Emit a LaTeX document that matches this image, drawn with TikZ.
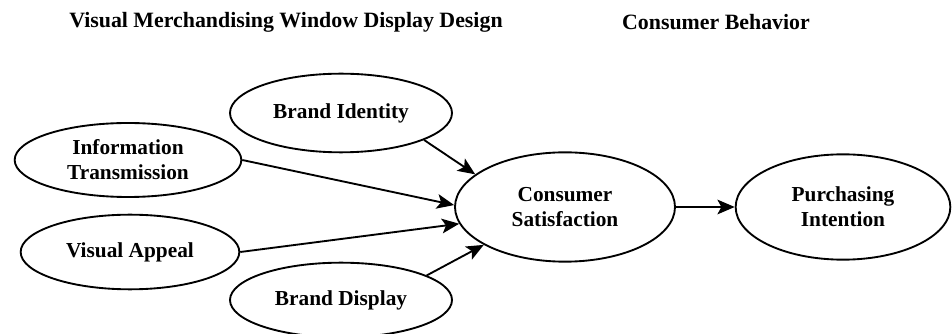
\documentclass[tikz,border=0pt]{standalone}
\usepackage{fontspec}
\setmainfont{Liberation Serif}
\usetikzlibrary{shapes.geometric,arrows.meta}
\begin{document}
\begin{tikzpicture}[x=0.75pt,y=-0.75pt,
  construct/.style={ellipse,draw,line width=1.4pt,inner sep=0pt,align=center,
    font=\fontsize{16pt}{18.8pt}\selectfont\bfseries},
  heading/.style={font=\fontsize{16.4pt}{19pt}\selectfont\bfseries},
  link/.style={line width=1.4pt,-{Stealth[length=13pt,width=11pt,inset=3pt]}}]
\useasboundingbox (0,0) rectangle (952,334);

% column headings
\node[heading] (hdesign) at (286,22) {Visual Merchandising Window Display Design};
\node[heading] (hbehav) at (716,22) {Consumer Behavior};

% window display design constructs
\node[construct,minimum width=166.5pt,minimum height=59pt] (bi) at (341,113) {Brand Identity};
\node[construct,minimum width=170pt,minimum height=55.5pt] (it) at (128,160) {Information\\Transmission};
\node[construct,minimum width=164pt,minimum height=56pt] (va) at (130,252) {Visual Appeal};
\node[construct,minimum width=166.5pt,minimum height=56pt] (bd) at (341,300) {Brand Display};

% consumer behaviour constructs
\node[construct,minimum width=165pt,minimum height=82pt] (cs) at (565,207) {Consumer\\Satisfaction};
\node[construct,minimum width=161pt,minimum height=79pt] (pi) at (843,207) {Purchasing\\Intention};

% paths
\draw[link] (bi.342) -- (cs.160);
\draw[link] (it.east) -- (cs.179);
\draw[link] (va.east) -- (cs.189);
\draw[link] (bd.16) -- (cs.205);
\draw[link] (cs) -- (pi);
\end{tikzpicture}
\end{document}
